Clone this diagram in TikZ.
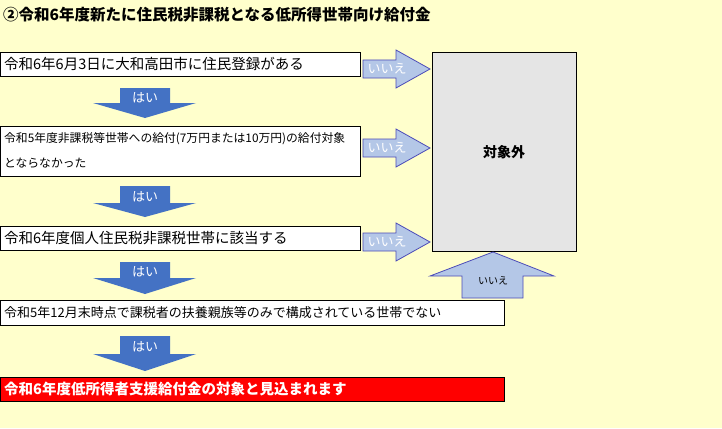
\documentclass[tikz,border=0pt]{standalone}
\usepackage{fontspec}
\setmainfont{Noto Sans CJK JP}
\begin{document}
\begin{tikzpicture}[x=1pt,y=-1pt,
  box/.style={draw=black,fill=white,line width=0.8pt},
  rarr/.style={draw=blue!60!black!70,fill=lightarr,line width=0.8pt},
  lbl/.style={anchor=west,inner sep=0pt,font=\fontsize{14.5pt}{16pt}\selectfont}]
\definecolor{bg}{HTML}{FFFFCC}
\definecolor{lightarr}{HTML}{B4C7E7}
\definecolor{darkarr}{HTML}{4472C4}
\useasboundingbox (0,0) rectangle (722,428);
\fill[bg] (0,0) rectangle (722,428);
\node[anchor=west,inner sep=0pt,font=\bfseries\fontsize{15.5pt}{17pt}\selectfont] (title) at (3,15) {②令和6年度新たに住民税非課税となる低所得世帯向け給付金};
% boxes
\draw[box] (0,52) rectangle (360,76);
\node[lbl] (t1) at (4,64) {令和6年6月3日に大和高田市に住民登録がある};
\draw[box] (0,126) rectangle (360,176);
\node[lbl,font=\fontsize{11.8pt}{13pt}\selectfont] (t2a) at (4,139) {令和5年度非課税等世帯への給付(7万円または10万円)の給付対象};
\node[lbl,font=\fontsize{11.8pt}{13pt}\selectfont] (t2b) at (4,163) {とならなかった};
\draw[box] (0,226) rectangle (360,250);
\node[lbl] (t3) at (4,238) {令和6年度個人住民税非課税世帯に該当する};
\draw[box] (0,300) rectangle (504,325);
\node[lbl,font=\fontsize{13pt}{14pt}\selectfont] (t4) at (4,312.5) {令和5年12月末時点で課税者の扶養親族等のみで構成されている世帯でない};
\draw[black,fill=red,line width=0.8pt] (0,377) rectangle (504,401);
\node[lbl,text=white,font=\bfseries\fontsize{14.5pt}{16pt}\selectfont] (t5) at (4,389) {令和6年度低所得者支援給付金の対象と見込まれます};
% gray box
\draw[black,fill=black!10,line width=0.8pt] (432,52) rectangle (576,251);
\node[font=\bfseries\fontsize{14pt}{16pt}\selectfont] (gx) at (504,152) {対象外};
% right arrows
\foreach \c in {69,148,242}{
  \draw[rarr] (363,\c-9) -- (396,\c-9) -- (396,\c-19) -- (430,\c) -- (396,\c+19) -- (396,\c+9) -- (363,\c+9) -- cycle;
  \node[text=white,font=\fontsize{13pt}{14pt}\selectfont] at (387,\c) {いいえ};
}
% up arrow
\draw[rarr] (462,298) -- (462,276) -- (430,276) -- (493,252) -- (554,276) -- (523,276) -- (523,298) -- cycle;
\node[font=\fontsize{10pt}{11pt}\selectfont] (ui) at (493,281) {いいえ};
% down arrows
\foreach \t/\h/\b in {88/103/118, 186/203/217, 262/278/294, 336/354/371}{
  \fill[darkarr] (120,\t) -- (170,\t) -- (170,\h) -- (196,\h) -- (145,\b) -- (93,\h) -- (120,\h) -- cycle;
  \node[text=white,font=\fontsize{13pt}{14pt}\selectfont] at (145,\t/2+\h/2+2) {はい};
}
\end{tikzpicture}
\end{document}
